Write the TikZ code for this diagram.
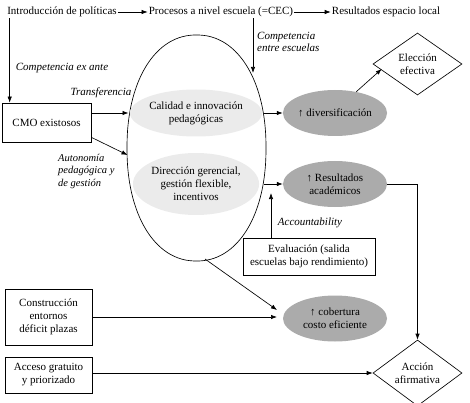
\documentclass[tikz,border=0pt]{standalone}
\usepackage{fontspec}
\setmainfont{Liberation Serif}
\usetikzlibrary{arrows.meta,shapes.geometric}
\definecolor{lightg}{gray}{0.92}
\definecolor{darkg}{gray}{0.67}
\begin{document}
\begin{tikzpicture}[x=1pt,y=-1pt,
  every node/.style={font=\fontsize{11}{13}\selectfont, inner sep=1pt},
  arr/.style={-{Latex[length=6pt,width=4.4pt]}, line width=0.65pt},
  ln/.style={line width=0.65pt},
  lab/.style={font=\fontsize{11}{12.5}\selectfont\itshape, align=left},
  box/.style={draw, line width=0.65pt, align=center, inner sep=0pt},
  lgell/.style={ellipse, fill=lightg, align=center, inner sep=0pt, minimum width=116pt},
  dgell/.style={ellipse, fill=darkg, align=center, inner sep=0pt, minimum width=104pt, minimum height=46pt},
  dia/.style={diamond, draw, line width=0.65pt, align=center, inner sep=0pt, minimum width=89pt},
]
\useasboundingbox (0,0) rectangle (470,403);

% top row
\node (intro) at (62,12) {Introducción de políticas};
\node (proc) at (221,12) {Procesos a nivel escuela (=CEC)};
\node (res) at (386,12) {Resultados espacio local};
\draw[arr] (intro) -- (proc);
\draw[arr] (proc) -- (res);

% big superellipse
\draw[ln] plot[domain=1:361, samples=121, smooth]
  ({196.5+69.5*sign(cos(\x))*pow(abs(cos(\x)),0.93)},
   {148-113*sign(sin(\x))*pow(abs(sin(\x)),0.93)}) -- cycle;

% inner ellipses
\node[lgell, minimum height=47pt] (cal) at (196,113) {Calidad e innovación\\pedagógicas};
\node[lgell, minimum height=62pt] (dir) at (196,184) {Dirección gerencial,\\gestión flexible,\\incentivos};

% outcome ellipses
\node[dgell] (div) at (335,113) {↑ diversificación};
\node[dgell] (resac) at (335,184) {↑ Resultados\\académicos};
\node[dgell] (cob) at (335,318.5) {↑ cobertura\\costo eficiente};

% diamonds
\node[dia, minimum height=62pt] (elec) at (417.5,64) {Elección\\efectiva};
\node[dia, minimum height=56pt] (accion) at (417.5,373) {Acción\\afirmativa};

% boxes
\node[box, minimum width=89pt, minimum height=39pt] (cmo) at (46.5,122.5) {CMO existosos};
\node[box, minimum width=87pt, minimum height=56pt] (cons) at (48.5,317) {Construcción\\entornos\\déficit plazas};
\node[box, minimum width=87pt, minimum height=36pt] (acc) at (48.5,375) {Acceso gratuito\\y priorizado};
\node[box, minimum width=132pt, minimum height=37pt] (eval) at (309,256.5) {Evaluación (salida\\escuelas bajo rendimiento)};

% labels
\node[lab] (cexa) at (62,68) {Competencia ex ante};
\node[lab, anchor=west] (cee) at (256,42) {Competencia\\entre escuelas};
\node[lab] (transf) at (101,93) {Transferencia};
\node[lab, anchor=west, font=\fontsize{10.5}{12.5}\selectfont\itshape] (auto) at (57,171) {Autonomía\\pedagógica y\\de gestión};
\node[lab] (acct) at (310,223) {Accountability};

% connector coordinates on the big shape
\coordinate (e1) at (128.5,113);
\coordinate (e2) at (127.5,155);
\coordinate (e3) at (264,113);
\coordinate (e4) at (264,184);
\coordinate (ctop) at (253,73);
\coordinate (e6) at (271,193);
\coordinate (e7) at (205,259);
\coordinate (e8) at (277,310);

% connectors
\draw[arr] ([xshift=8pt]cmo.north west |- intro.south) -- ([xshift=8pt]cmo.north west);
\draw[arr] (proc.south -| ctop) -- (ctop);
\draw[arr] (cmo.east |- e1) -- (e1);
\draw[arr] ([yshift=5pt]cmo.south east) -- (e2);
\draw[arr] (e3) -- (div);
\draw[arr] (e4) -- (resac);
\draw[arr] (div.45) -- ([xshift=9pt,yshift=-5pt]elec.west);
\draw[arr] (resac.east) -| (accion.north);
\draw[arr] (e6 |- eval.north) -- (e6);
\draw[arr] (e7) -- (e8);
\draw[arr] (cons.east) -- (cons.east -| e8);
\draw[arr] (acc.east |- accion.west) -- (accion.west);
\end{tikzpicture}
\end{document}
